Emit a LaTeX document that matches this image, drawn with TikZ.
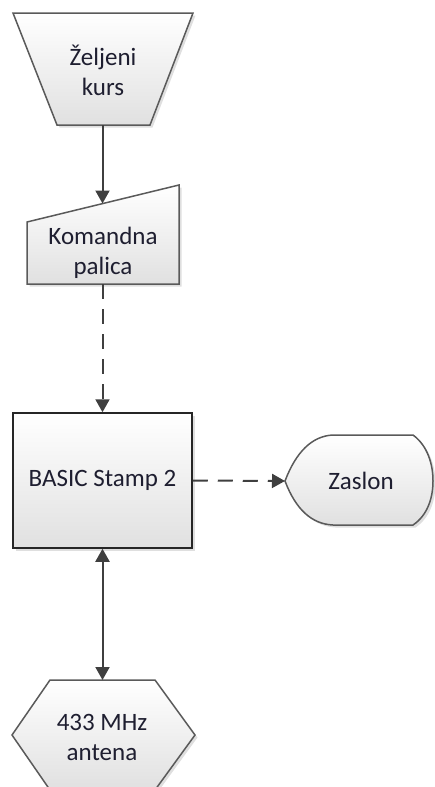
\documentclass[tikz,border=0pt]{standalone}
\usepackage{fontspec}
\setmainfont{Carlito}
\usetikzlibrary{arrows.meta, shadows}

\definecolor{edge}{HTML}{5A5A5A}
\definecolor{ink}{HTML}{1E1E30}

\begin{document}
\begin{tikzpicture}[x=1pt, y=-1pt,
    block/.style={draw=edge, line width=1.5pt, top color=white, bottom color=black!12,
        drop shadow={shadow xshift=2.5pt, shadow yshift=-2.5pt, opacity=0.25}},
    txt/.style={text=ink, font=\fontsize{25}{30}\selectfont, align=center},
    flow/.style={draw=edge!70!black, line width=2pt, -{Triangle[length=13pt, width=14pt]}},
    dashline/.style={dash pattern=on 15pt off 10pt}]
    \useasboundingbox (0,0) rectangle (434,787);

    % Zeljeni kurs
    \path[block] (13,13) -- (193,13) -- (150,125) -- (57,125) -- cycle;
    \node[txt] (kurs) at (103,70) {Željeni\\kurs};

    % Komandna palica
    \path[block] (27,222) -- (179,185) -- (179,284) -- (27,284) -- cycle;
    \node[txt] (palica) at (103,253) {Komandna\\palica};

    % BASIC Stamp 2
    \node[block, draw=black!85, txt, minimum width=179pt, minimum height=135pt, inner sep=0pt]
        (stamp) at (102.5,480.5) {BASIC Stamp 2};

    % Zaslon
    \path[block] (285,481) .. controls (296,452) and (312,436) .. (333,435) -- (413,435)
        .. controls (428,446) and (433,465) .. (433,481)
        .. controls (433,497) and (428,515) .. (413,525) -- (333,525)
        .. controls (312,524) and (296,510) .. (285,481) -- cycle;
    \node[txt] (zaslon) at (361,481) {Zaslon};

    % 433 MHz antena
    \path[block] (50,680) -- (155,680) -- (195,735) -- (155,790) -- (50,790) -- (12,735) -- cycle;
    \node[txt] (antena) at (102,737) {433 MHz\\antena};

    \coordinate (kurs-s) at (102.5,125);
    \coordinate (palica-n) at (102.5,203.5);
    \coordinate (palica-s) at (102.5,284);
    \coordinate (zaslon-w) at (285,481);
    \coordinate (antena-n) at (102.5,680);

    \draw[flow] (kurs-s) -- (palica-n);
    \draw[flow, dashline] (palica-s) -- (stamp.north);
    \draw[flow, dashline] (stamp.east) -- (zaslon-w);
    \draw[flow, {Triangle[length=13pt, width=14pt]}-{Triangle[length=13pt, width=14pt]}] (stamp.south) -- (antena-n);
\end{tikzpicture}
\end{document}
